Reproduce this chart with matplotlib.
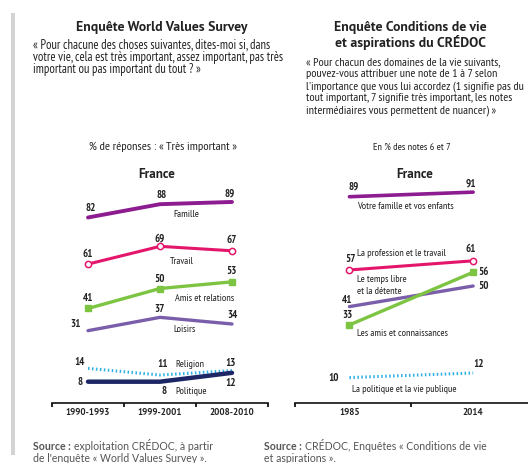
import matplotlib
matplotlib.use('Agg')
import matplotlib.pyplot as plt
from matplotlib import font_manager as fm
from matplotlib.patches import Rectangle

# ---------------- data ----------------
wvs_periods = ['1990-1993', '1999-2001', '2008-2010']
wvs_famille = [82, 88, 89]
wvs_travail = [61, 69, 67]
wvs_amis = [41, 50, 53]
wvs_loisirs = [31, 37, 34]
wvs_religion = [14, 11, 13]
wvs_politique = [8, 8, 12]

cdv_years = ['1985', '2014']
cdv_famille = [89, 91]
cdv_travail = [57, 61]
cdv_loisirs = [41, 50]
cdv_amis = [33, 56]
cdv_politique = [10, 12]

# ---------------- fonts ----------------
names = {f.name for f in fm.fontManager.ttflist}


def pick(cands, default='DejaVu Sans'):
    for c in cands:
        if c in names:
            return c
    return default


NARROW = pick(['PT Sans Narrow', 'Fira Sans Condensed', 'Archivo Narrow', 'Roboto Condensed'])
WIDE = pick(['PT Sans', 'Fira Sans', 'Open Sans'])
SRCF = pick(['Lato', 'Open Sans'])
COND = dict(family=NARROW)
BOLD = dict(family=WIDE, fontweight='bold')

W, H = 528, 463
fig = plt.figure(figsize=(W / 100, H / 100), dpi=100)
R = fig.canvas.get_renderer()


def fx(px):
    return px / W


def fy(py):
    return 1 - py / H


def T(px, py, s, **kw):
    kw.setdefault('va', 'center')
    return fig.text(fx(px), fy(py), s, **kw)


def fit(t, width):
    w = t.get_window_extent(R).width
    t.set_fontsize(t.get_fontsize() * width / w)
    return t


def paragraph(lines, x0, x1, y0, dy, **kw):
    # one text per line, sized so that the longest line just fills the column
    size = kw.pop('fontsize', 7)
    ts = [T(x0, y0 + i * dy, ln, ha='left', va='baseline', fontsize=size, **kw)
          for i, ln in enumerate(lines)]
    widest = max(t.get_window_extent(R).width for t in ts[:-1])
    new = size * (x1 - x0) / widest
    base = new * 100 / 72 * 0.35
    for i, t in enumerate(ts):
        t.set_fontsize(new)
        t.set_y(fy(y0 + i * dy + base))


# grey side bar
fig.patches.append(Rectangle((fx(11), fy(455)), 4 / W, (455 - 13) / H,
                             transform=fig.transFigure, color='#d3d3d3', lw=0))

TXT = '#222222'
# ---------------- headers ----------------
fit(T(162, 28, 'Enquête World Values Survey', ha='center', fontsize=8.5, color=TXT, **BOLD), 171)
paragraph(['« Pour chacune des choses suivantes, dites-moi si, dans',
           'votre vie, cela est très important, assez important, pas très',
           'important ou pas important du tout ? »'],
          33, 284, 44, 12.3, fontsize=7.3, color=TXT, **COND)
fit(T(163, 147, '% de réponses : « Très important »', ha='center', fontsize=8, color=TXT, **COND), 148)

fit(T(410, 28, 'Enquête Conditions de vie', ha='center', fontsize=8.5, color=TXT, **BOLD), 152)
T(410, 43, 'et aspirations du CRÉDOC', ha='center', fontsize=fig.texts[-1].get_fontsize(), color=TXT, **BOLD)
paragraph(['« Pour chacun des domaines de la vie suivants,',
           'pouvez-vous attribuer une note de 1 à 7 selon',
           "l'importance que vous lui accordez (1 signifie pas du",
           'tout important, 7 signifie très important, les notes',
           'intermédiaires vous permettent de nuancer) »'],
          306, 524, 61, 12, fontsize=7.3, color=TXT, **COND)
fit(T(412, 147, 'En % des notes 6 et 7', ha='center', fontsize=7.5, color=TXT, **COND), 77)

fit(T(157, 174, 'France', ha='center', fontsize=8.5, color=TXT, **BOLD), 37)
fit(T(415, 174, 'France', ha='center', fontsize=8.5, color=TXT, **BOLD), 37)

# ---------------- axes ----------------
axL = fig.add_axes([fx(52), fy(403), (268 - 52) / W, (403 - 180) / H])
axR = fig.add_axes([fx(295), fy(403), 240 / W, (403 - 180) / H])
axL.set_xlim(-0.5, 2.5)
axL.set_ylim(-1.6, 98.9)
axR.set_xlim(-0.44, 1.5)
axR.set_ylim(-1.1, 96.3)

for ax in (axL, axR):
    for s in ('top', 'left', 'right'):
        ax.spines[s].set_visible(False)
    ax.spines['bottom'].set_linewidth(1.2)
    ax.spines['bottom'].set_color('#111111')
    ax.set_yticks([])
    ax.patch.set_alpha(0)
    ax.tick_params(axis='x', which='major', direction='out', length=3, width=1.3, color='#111111', labelbottom=False)
    ax.tick_params(axis='x', which='minor', length=0, pad=3.5)

axL.set_xticks([-0.5, 0.5, 1.5, 2.5])
axL.set_xticks(range(len(wvs_periods)), minor=True)
axL.set_xticklabels(wvs_periods, minor=True, fontsize=6.6, color=TXT, **BOLD)
axR.set_xticks([-0.44, 0.5, 1.5])
axR.set_xticks(range(len(cdv_years)), minor=True)
axR.set_xticklabels(cdv_years, minor=True, fontsize=6.6, color=TXT, **BOLD)

C_FAM = '#8c1c8f'
C_TRA = '#e4166b'
C_AMI = '#7dc443'
C_LOI = '#7b5ea9'
C_REL = '#2fb0e5'
C_POL = '#1d2766'

xl = range(len(wvs_periods))
axL.plot(xl, wvs_famille, color=C_FAM, lw=2.8, solid_capstyle='round')
axL.plot(xl, wvs_travail, color=C_TRA, lw=2.2, marker='o', ms=4.5, mfc='white', mec=C_TRA, mew=1.1)
axL.plot(xl, wvs_amis, color=C_AMI, lw=2.4, marker='s', ms=4.5, mfc=C_AMI, mec=C_AMI)
axL.plot(xl, wvs_loisirs, color=C_LOI, lw=2.4, solid_capstyle='round')
axL.plot(xl, wvs_religion, color=C_REL, lw=2.2, ls=(0, (0.5, 0.8)))
axL.plot(xl, wvs_politique, color=C_POL, lw=3.2, solid_capstyle='round')

xr = range(len(cdv_years))
axR.plot(xr, cdv_famille, color=C_FAM, lw=2.6, solid_capstyle='round')
axR.plot(xr, cdv_travail, color=C_TRA, lw=2.2, marker='o', ms=4.5, mfc='white', mec=C_TRA, mew=1.1)
axR.plot(xr, cdv_loisirs, color=C_LOI, lw=2.4, solid_capstyle='round')
axR.plot(xr, cdv_amis, color=C_AMI, lw=2.4, marker='s', ms=4.5, mfc=C_AMI, mec=C_AMI)
axR.plot(xr, cdv_politique, color=C_REL, lw=2.2, ls=(0, (0.5, 0.8)))

VAL = dict(fontsize=7.8, fontweight='bold', color=TXT, va='center', ha='center', **COND)
LAB = dict(fontsize=7.3, color=TXT, va='center', **COND)


def val(ax, x, y, dx, dy, ha='center'):
    kw = dict(VAL)
    kw['ha'] = ha
    ax.annotate(str(y), (x, y), xytext=(dx, dy), textcoords='offset pixels', **kw)


def lab(ax, x, y, dx, dy, s, ha='left'):
    ax.annotate(s, (x, y), xytext=(dx, dy), textcoords='offset pixels', ha=ha, **LAB)


for i, d in enumerate([(3, 9), (2, 9), (-2, 8)]):
    val(axL, i, wvs_famille[i], *d)
for i, d in enumerate([(0, 10), (0, 8), (0, 11)]):
    val(axL, i, wvs_travail[i], *d)
for i, d in enumerate([(0, 10), (0, 10), (0, 11)]):
    val(axL, i, wvs_amis[i], *d)
for i, d in enumerate([(-12, 7), (0, 8), (0, 9)]):
    val(axL, i, wvs_loisirs[i], *d)
for i, d in enumerate([(-8, 6), (3, 11), (-1, 8)]):
    val(axL, i, wvs_religion[i], *d)
for i, d in enumerate([(-8, 0), (4, -9), (-1, -10)]):
    val(axL, i, wvs_politique[i], *d)

lab(axL, 1, wvs_famille[1], 26, -10, 'Famille', ha='center')
lab(axL, 1, wvs_travail[1], 22, -15, 'Travail', ha='center')
lab(axL, 1, wvs_amis[1], 45, -10, 'Amis et relations', ha='center')
lab(axL, 1, wvs_loisirs[1], 25, -12, 'Loisirs', ha='center')
lab(axL, 1, wvs_religion[1], 30, 11, 'Religion', ha='center')
lab(axL, 1, wvs_politique[1], 31, -10, 'Politique', ha='center')

val(axR, 0, cdv_famille[0], 4, 10)
val(axR, 1, cdv_famille[1], -2, 9)
val(axR, 0, cdv_travail[0], 1, 11)
val(axR, 1, cdv_travail[1], -2, 12)
val(axR, 0, cdv_loisirs[0], -2, 7)
val(axR, 1, cdv_loisirs[1], 10, 0)
val(axR, 0, cdv_amis[0], -2, 10)
val(axR, 1, cdv_amis[1], 10, 0)
val(axR, 0, cdv_politique[0], -16, 0)
val(axR, 1, cdv_politique[1], 5, 9)

lab(axR, 0, cdv_famille[0], 8, -10, 'Votre famille et vos enfants')
lab(axR, 0, cdv_travail[0], 8, 16, 'La profession et le travail')
lab(axR, 0, cdv_loisirs[0], 8, 27, 'Le temps libre')
lab(axR, 0, cdv_loisirs[0], 8, 15, 'et la détente')
lab(axR, 0, cdv_amis[0], 8, -9, 'Les amis et connaissances')
lab(axR, 0, cdv_politique[0], 3, -12, 'La politique et la vie publique')

# ---------------- sources ----------------
SRC = dict(fontsize=7.6, color='#555555', family=SRCF, ha='left')
t = T(33, 446, 'Source :', fontweight='bold', **SRC)
w = t.get_window_extent(R).width
T(33 + w + 3, 446, 'exploitation CRÉDOC, à partir', **SRC)
T(33, 458, "de l'enquête « World Values Survey ».", **SRC)
t = T(264, 446, 'Source :', fontweight='bold', **SRC)
w = t.get_window_extent(R).width
T(264 + w + 3, 446, 'CRÉDOC, Enquêtes « Conditions de vie', **SRC)
T(264, 458, 'et aspirations ».', **SRC)

fig.savefig('out.png', dpi=100)
